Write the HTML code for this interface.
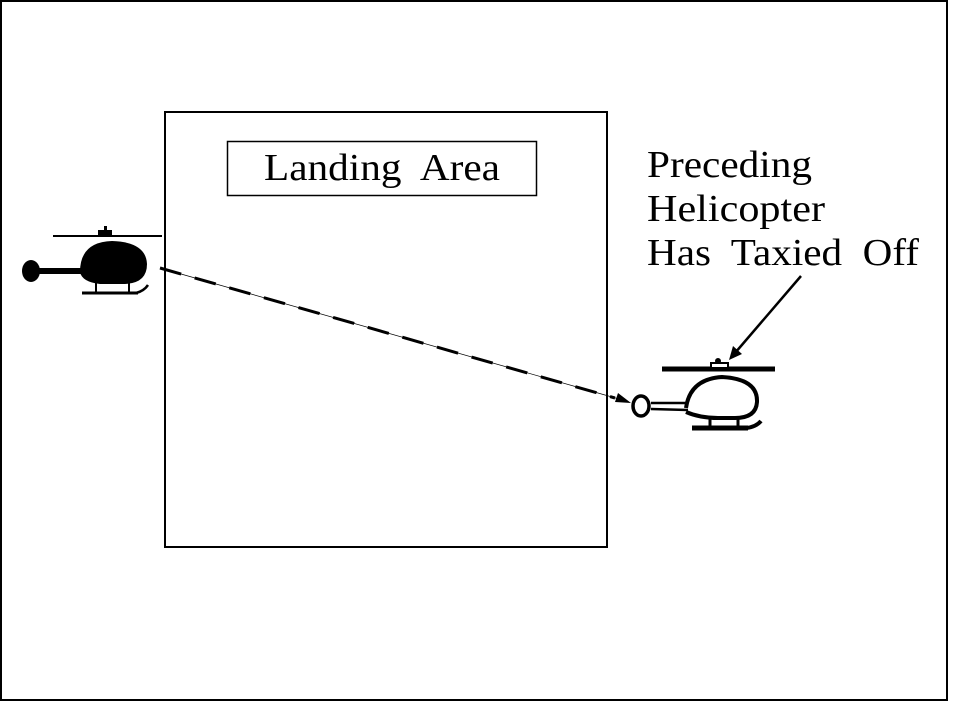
<!DOCTYPE html>
<html><head><meta charset="utf-8"><style>
html,body{margin:0;padding:0;background:#fff;width:955px;height:706px;overflow:hidden}
text{font-family:"Liberation Serif",serif;fill:#000}
</style></head><body>
<svg width="955" height="706" viewBox="0 0 955 706" xmlns="http://www.w3.org/2000/svg">
<rect x="1" y="1" width="946" height="699" fill="none" stroke="#000" stroke-width="2"/>
<rect x="165" y="112" width="442" height="435" fill="none" stroke="#000" stroke-width="2"/>
<rect x="227.5" y="141.5" width="309" height="54" fill="none" stroke="#000" stroke-width="1.5"/>
<text x="264" y="180" font-size="38" textLength="236" lengthAdjust="spacingAndGlyphs" xml:space="preserve">Landing  Area</text>
<text x="647" y="177" font-size="38" textLength="165" lengthAdjust="spacingAndGlyphs">Preceding</text>
<text x="647" y="221" font-size="38" textLength="178" lengthAdjust="spacingAndGlyphs">Helicopter</text>
<text x="647" y="265" font-size="38" textLength="272" lengthAdjust="spacingAndGlyphs" xml:space="preserve">Has  Taxied  Off</text>

<!-- left helicopter -->
<g fill="#000" stroke="#000">
<line x1="53" y1="236" x2="162" y2="236" stroke-width="2"/>
<rect x="98" y="230" width="14" height="6" stroke="none"/>
<rect x="104" y="226" width="3" height="6" stroke="none"/>
<path d="M80 272 Q80 242 112 241 Q146 242 147 264 Q147 283 125 284 L100 284 Q82 282 80 272 Z" stroke="none"/>
<rect x="35" y="268" width="50" height="6" stroke="none"/>
<ellipse cx="31" cy="271" rx="9" ry="11" stroke="none"/>
<line x1="82" y1="293" x2="138" y2="293" stroke-width="3"/>
<path d="M136 293 Q144 291 148 285" fill="none" stroke-width="2.5"/>
<line x1="96" y1="283" x2="96" y2="293" stroke-width="2"/>
<line x1="129" y1="283" x2="129" y2="293" stroke-width="2"/>
</g>

<!-- dashed line -->
<line x1="160" y1="268" x2="626" y2="401" stroke="#000" stroke-width="0.7"/>
<line x1="160" y1="268" x2="615" y2="398" stroke="#000" stroke-width="3" stroke-dasharray="22,14"/>
<polygon points="631,403 618,393 615,402" fill="#000"/>

<!-- arrow to right heli -->
<line x1="801" y1="276" x2="735" y2="353" stroke="#000" stroke-width="2.5"/>
<polygon points="729,360 733,346 742,354" fill="#000"/>

<!-- right helicopter -->
<g fill="none" stroke="#000">
<line x1="662" y1="369" x2="775" y2="369" stroke-width="5"/>
<rect x="711" y="363" width="17" height="5" fill="#fff" stroke-width="2"/>
<circle cx="718" cy="361" r="3" fill="#000" stroke="none"/>
<path d="M686 408 Q690 379 722 377 Q758 379 757 402 Q756 418 735 418 L718 418 Q700 418 686 412" stroke-width="4" fill="#fff"/>
<path d="M651 403 L688 403 M651 409 L688 410" stroke-width="2.5"/>
<ellipse cx="641" cy="406" rx="8" ry="10" stroke-width="3.5" fill="#fff"/>
<line x1="692" y1="428" x2="748" y2="428" stroke-width="5"/>
<path d="M746 428 Q756 427 761 421" stroke-width="4"/>
<line x1="710" y1="418" x2="710" y2="428" stroke-width="3"/>
<line x1="738" y1="418" x2="738" y2="428" stroke-width="3"/>
</g>
</svg>
</body></html>
